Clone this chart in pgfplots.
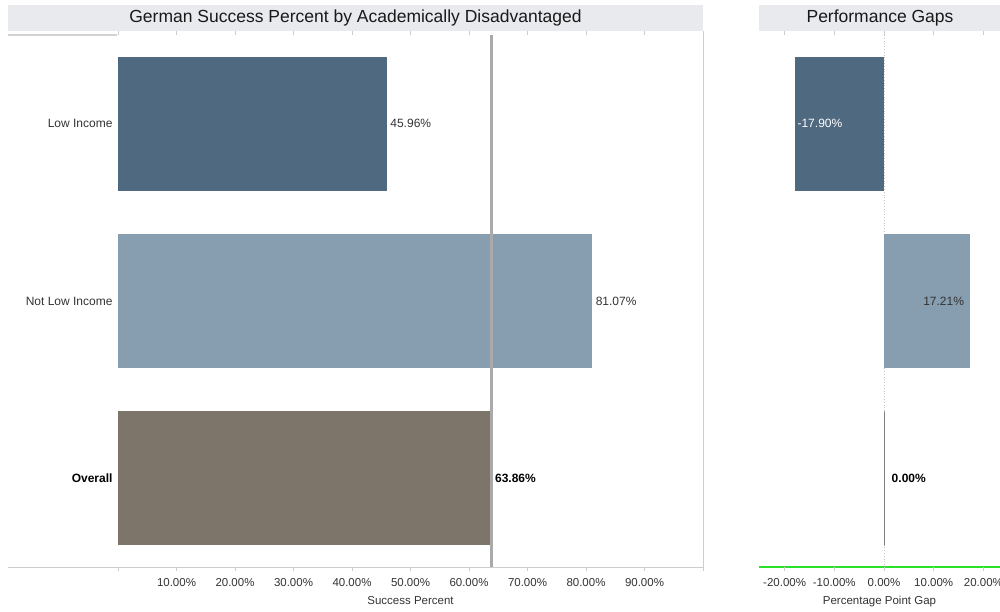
\documentclass[border=0pt]{standalone}
\usepackage{pgfplots}
\pgfplotsset{compat=1.18}
\usepackage{fontspec}
\setmainfont{Liberation Sans}
\definecolor{lowinc}{RGB}{79,105,128}
\definecolor{notlow}{RGB}{135,157,176}
\definecolor{overall}{RGB}{125,116,106}
\definecolor{band}{RGB}{233,234,238}
\definecolor{txt}{RGB}{51,51,51}
\definecolor{refg}{RGB}{170,170,170}
\definecolor{frame}{RGB}{205,205,205}
\definecolor{grn}{RGB}{40,225,40}
\begin{document}
\begin{tikzpicture}[x=1pt,y=1pt]
\fill[band] (8,580) rectangle (703,606);
\node[font=\fontsize{17.5}{20}\selectfont, text=black!90] at (355.5,593) {German Success Percent by Academically Disadvantaged};
\fill[band] (759,580) rectangle (1010,606);
\node[font=\fontsize{17.5}{20}\selectfont, text=black!90] at (880,593) {Performance Gaps};
% frame lines
\draw[frame, line width=0.8pt] (8,44) -- (703,44);
\draw[frame, line width=0.8pt] (703,44) -- (703,576);
\draw[frame!90, line width=2pt] (8,576) -- (117,576);
\pgfplotsset{
  base/.style={
    scale only axis, anchor=south west, height=532pt,
    ymin=-0.5, ymax=2.5, y dir=reverse,
    axis line style={draw=none},
    tick align=outside, major tick length=4pt,
    xtick style={draw=frame, line width=0.6pt},
    ytick style={draw=none},
    tick label style={font=\fontsize{11.5}{13}\selectfont, text=txt},
    xticklabel style={yshift=-3.5pt},
    xlabel style={font=\fontsize{11.5}{13}\selectfont, text=txt, yshift=-3pt},
    every node near coord/.append style={font=\fontsize{12}{14}\selectfont, text=txt, fill=none, draw=none},
    clip=false,
  }
}
\begin{axis}[base, at={(118pt,44pt)}, width=585pt,
  xmin=0, xmax=100,
  xtick={0,10,...,100},
  xticklabels={,10.00\%,20.00\%,30.00\%,40.00\%,50.00\%,60.00\%,70.00\%,80.00\%,90.00\%,},
  ytick={0,1,2},
  yticklabels={Low Income,Not Low Income,{\color{black}\bfseries Overall}},
  yticklabel style={font=\fontsize{12}{14}\selectfont, xshift=2pt},
  xlabel={Success Percent},
]
\addplot[xbar, bar width=134pt, bar shift=0pt, fill=lowinc, draw=none, point meta=x,
  nodes near coords={45.96\%}] coordinates {(45.96,0)};
\addplot[xbar, bar width=134pt, bar shift=0pt, fill=notlow, draw=none, point meta=x,
  nodes near coords={81.07\%}] coordinates {(81.07,1)};
\addplot[xbar, bar width=134pt, bar shift=0pt, fill=overall, draw=none, point meta=x,
  nodes near coords={\color{black}\bfseries 63.86\%}] coordinates {(63.86,2)};
\addplot[refg, line width=2.5pt] coordinates {(63.86,-0.5) (63.86,2.5)};
\end{axis}
\draw[grn, line width=1.5pt] (759,44) -- (1010,44);
\begin{axis}[base, at={(759pt,44pt)}, width=241pt,
  xmin=-25.15, xmax=23.34,
  xtick={-20,-10,0,10,20},
  xticklabels={-20.00\%,-10.00\%,0.00\%,10.00\%,20.00\%},
  ytick=\empty,
  xlabel={Percentage Point Gap},
]
\addplot[refg!70, dotted, line width=0.8pt] coordinates {(0,-0.5) (0,2.5)};
\addplot[xbar, bar width=134pt, bar shift=0pt, fill=lowinc, draw=none, point meta=x,
  nodes near coords={\color{white}-17.90\%},
  every node near coord/.append style={anchor=west, xshift=-1pt}] coordinates {(-17.90,0)};
\addplot[xbar, bar width=134pt, bar shift=0pt, fill=notlow, draw=none, point meta=x,
  nodes near coords={17.21\%},
  every node near coord/.append style={anchor=east, xshift=-2pt}] coordinates {(17.21,1)};
\addplot[xbar, bar width=134pt, bar shift=0pt, fill=overall, draw=gray, line width=0.8pt, point meta=x,
  nodes near coords={\color{black}\bfseries 0.00\%},
  every node near coord/.append style={anchor=west, xshift=4pt}] coordinates {(0,2)};
\end{axis}
\pgfresetboundingbox
\path (0,0) rectangle (1000,611);
\end{tikzpicture}
\end{document}
